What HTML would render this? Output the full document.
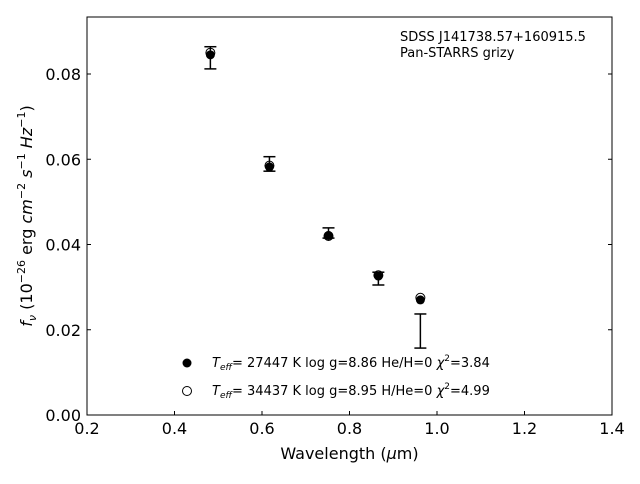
<!DOCTYPE html>
<html><head><meta charset="utf-8"><style>
body{margin:0;background:#fff;font-family:"DejaVu Sans","Liberation Sans",sans-serif;}
svg text{font-family:"DejaVu Sans","Liberation Sans",sans-serif;}
</style></head><body>
<svg id="chart" width="640" height="480" xmlns="http://www.w3.org/2000/svg">
<rect x="0" y="0" width="640" height="480" fill="#fff"/>
<g id="marks"></g>
<rect x="87" y="17" width="525" height="398" fill="none" stroke="#000" stroke-width="1"/>
<g id="axes"></g>
<text x="349.5" y="459" font-size="16" text-anchor="middle">Wavelength (<tspan font-style="italic">μ</tspan>m)</text>
<text transform="translate(32,216) rotate(-90)" font-size="16" text-anchor="middle"><tspan font-style="italic">f<tspan font-size="11" dy="4">ν</tspan></tspan><tspan dy="-4"> (10</tspan><tspan font-size="11" dy="-7">−26</tspan><tspan dy="7"> erg </tspan><tspan font-style="italic">cm</tspan><tspan font-size="11" dy="-7">−2</tspan><tspan dy="7" font-style="italic"> s</tspan><tspan font-size="11" dy="-7">−1</tspan><tspan dy="7" font-style="italic"> Hz</tspan><tspan font-size="11" dy="-7">−1</tspan><tspan dy="7">)</tspan></text>
<text x="400" y="41" font-size="13">SDSS J141738.57+160915.5</text>
<text x="400" y="57" font-size="13">Pan-STARRS grizy</text>
<g>
<circle cx="187" cy="363" r="4.5" fill="#000"/>
<text x="212" y="367" font-size="13"><tspan font-style="italic">T<tspan font-size="9" dy="3">eff</tspan></tspan><tspan dy="-3">= 27447 K  log g=8.86  He/H=0  </tspan><tspan font-style="italic">χ</tspan><tspan font-size="9" dy="-6">2</tspan><tspan dy="6">=3.84</tspan></text>
<circle cx="187" cy="391" r="4.5" fill="#fff" stroke="#000" stroke-width="1"/>
<text x="212" y="395" font-size="13"><tspan font-style="italic">T<tspan font-size="9" dy="3">eff</tspan></tspan><tspan dy="-3">= 34437 K  log g=8.95  H/He=0  </tspan><tspan font-style="italic">χ</tspan><tspan font-size="9" dy="-6">2</tspan><tspan dy="6">=4.99</tspan></text>
</g>
</svg>
<script>
const wavelengths=[0.482,0.617,0.752,0.866,0.962];
const obsFlux=[0.0838,0.0589,0.0427,0.0320,0.0197];
const obsErr=[0.0026,0.0017,0.0012,0.0015,0.0040];
const modelH=[0.0845,0.0582,0.0421,0.0326,0.0270];
const modelHe=[0.0850,0.0585,0.0420,0.0328,0.0275];
const xTicks=[0.2,0.4,0.6,0.8,1.0,1.2,1.4];
const yTicks=[0.00,0.02,0.04,0.06,0.08];
const NS="http://www.w3.org/2000/svg";
const X=v=>87+(v-0.2)*437.5;
const Y=v=>415-v*4262.5;
const marks=document.getElementById('marks');
const axes=document.getElementById('axes');
function mk(tag,attrs,parent){const e=document.createElementNS(NS,tag);for(const k in attrs)e.setAttribute(k,attrs[k]);parent.appendChild(e);return e;}
xTicks.forEach(t=>{
  const g=mk('g',{},axes);
  
  
  mk('line',{x1:X(t),x2:X(t),y1:415,y2:411,stroke:'#000'},g);
  const tx=mk('text',{x:X(t),y:434,'font-size':16,'text-anchor':'middle'},g);tx.textContent=t.toFixed(1);
});
yTicks.forEach(t=>{
  const g=mk('g',{},axes);
  
  
  mk('line',{x1:87,x2:91,y1:Y(t),y2:Y(t),stroke:'#000'},g);
  mk('line',{x1:612,x2:608,y1:Y(t),y2:Y(t),stroke:'#000'},g);
  const tx=mk('text',{x:81,y:Y(t)+6,'font-size':16,'text-anchor':'end'},g);tx.textContent=t.toFixed(2);
});
wavelengths.forEach((w,i)=>{
  const c=mk('circle',{cx:X(w),cy:Y(modelHe[i]),r:4.5,fill:'#fff',stroke:'#000','stroke-width':1},marks);
  
  
  const f=mk('circle',{cx:X(w),cy:Y(modelH[i]),r:4.5,fill:'#000'},marks);
  
  
  const g=mk('g',{stroke:'#000','stroke-width':1.5},marks);
  
  
  const y1=Y(obsFlux[i]+obsErr[i]),y2=Y(obsFlux[i]-obsErr[i]),x=X(w);
  mk('line',{x1:x,x2:x,y1:y1,y2:y2},g);
  mk('line',{x1:x-6,x2:x+6,y1:y1,y2:y1},g);
  mk('line',{x1:x-6,x2:x+6,y1:y2,y2:y2},g);
});
</script>
</body></html>
